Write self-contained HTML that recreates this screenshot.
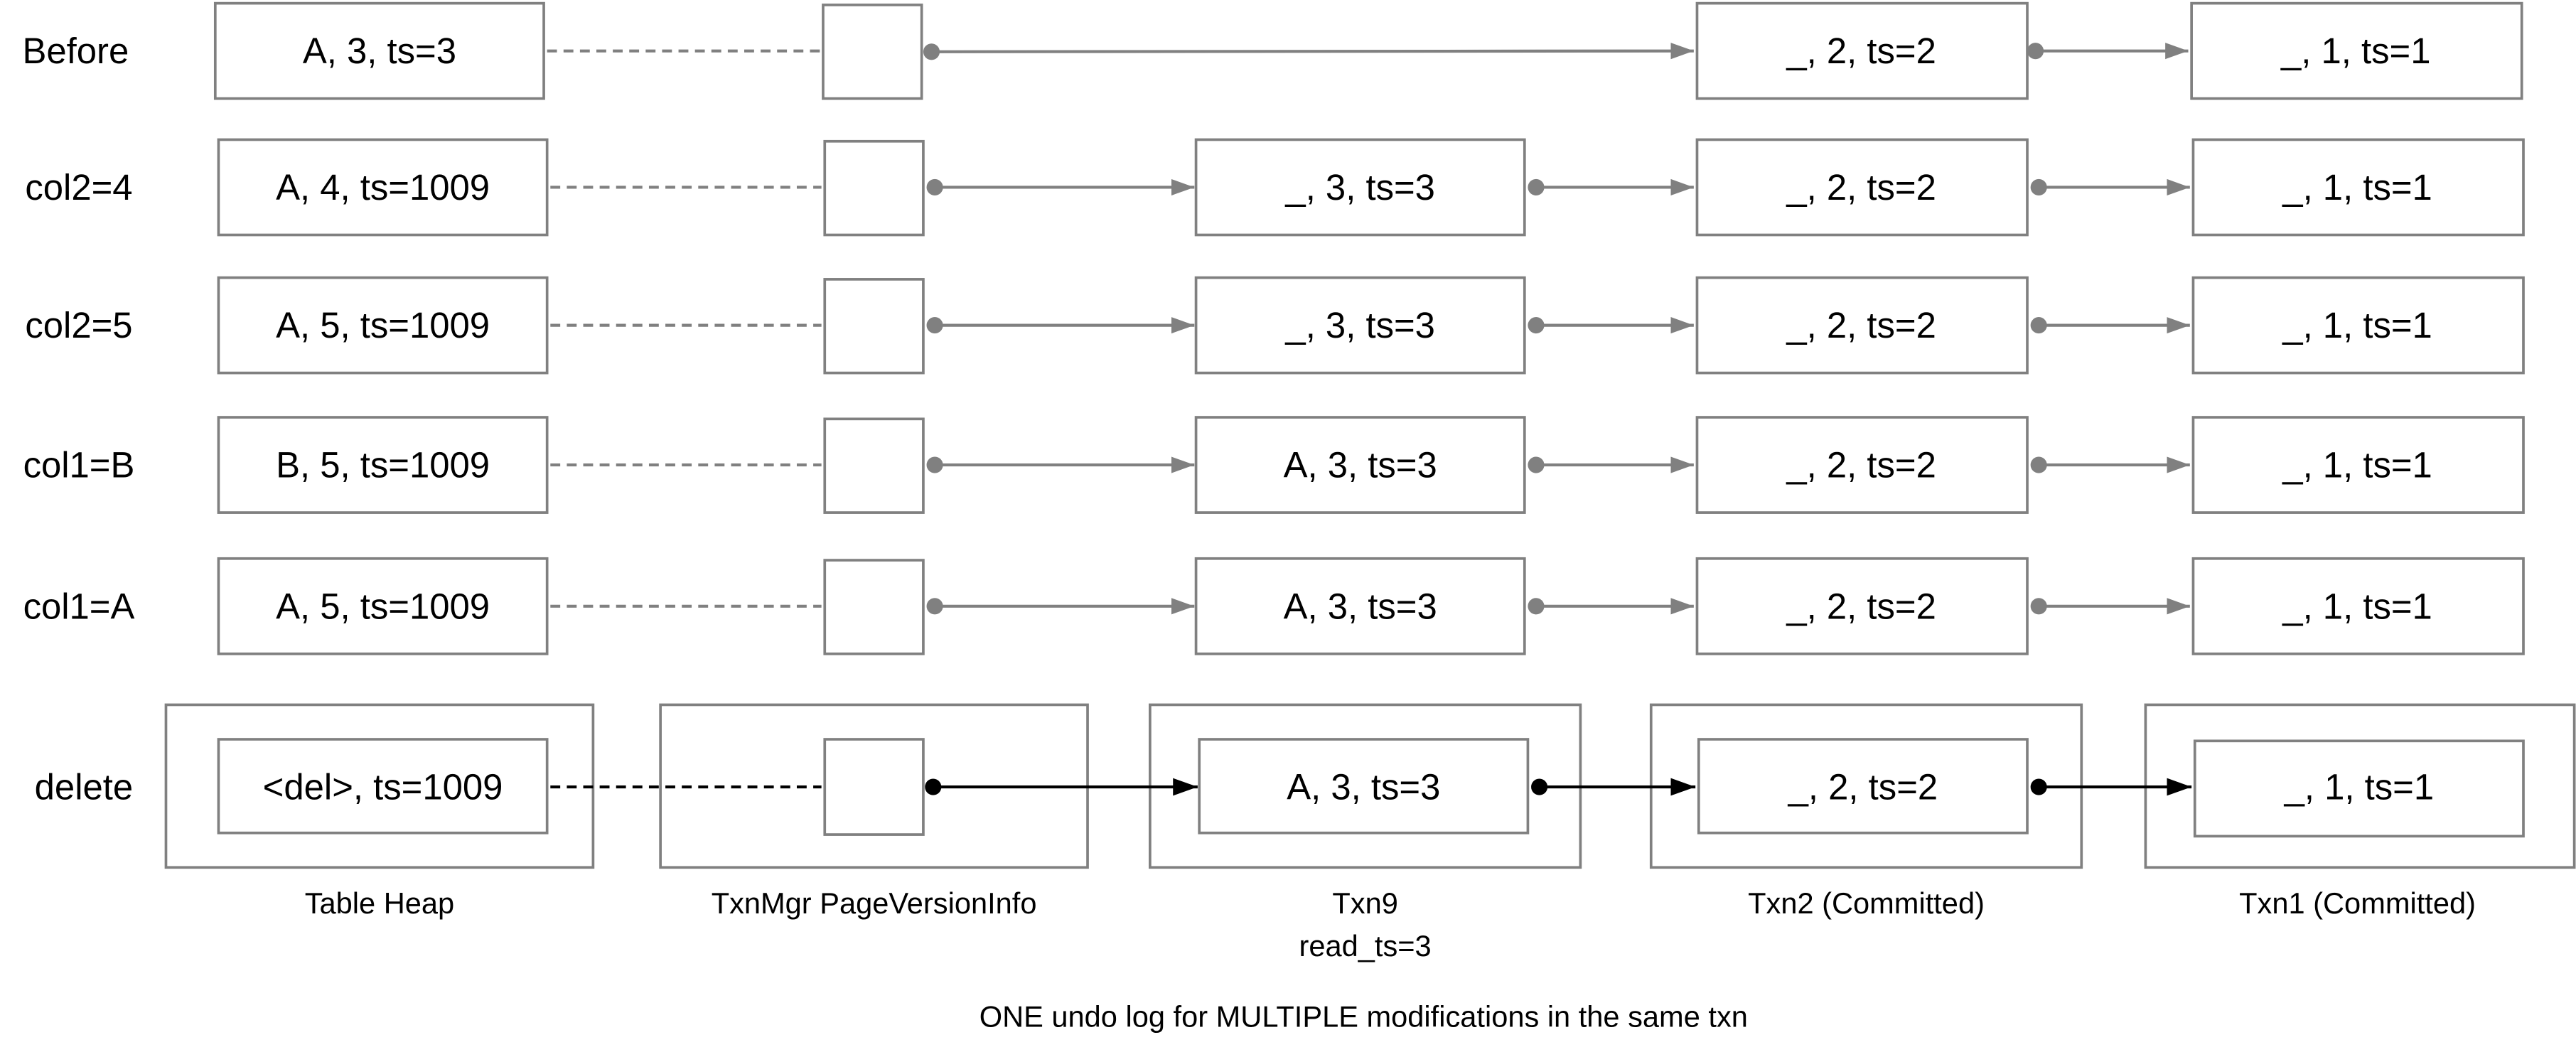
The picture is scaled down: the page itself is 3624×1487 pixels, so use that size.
<!DOCTYPE html>
<html><head><meta charset="utf-8"><style>
html,body{margin:0;padding:0;background:#fff;}
svg{display:block;}
text{font-family:"Liberation Sans",Arial,sans-serif;fill:#000;}
.b{fill:#fff;stroke:#808080;stroke-width:1.6;}
.g{stroke:#808080;stroke-width:1.8;fill:none;}
.k{stroke:#000;stroke-width:1.8;fill:none;}
.t{font-size:22px;text-anchor:middle;dominant-baseline:central;}
.l{font-size:22px;text-anchor:middle;dominant-baseline:central;}
.s{font-size:18px;text-anchor:middle;}
</style></head><body>
<svg width="3624" height="1487" viewBox="0 0 1568 643.4" xmlns="http://www.w3.org/2000/svg">
<defs>
<marker id="ag" viewBox="0 0 14 10" refX="14" refY="5" markerWidth="14" markerHeight="11" markerUnits="userSpaceOnUse" orient="auto"><path d="M0,0 L14,5 L0,10z" fill="#808080"/></marker>
<marker id="ak" viewBox="0 0 14 10" refX="14" refY="5" markerWidth="15" markerHeight="12" markerUnits="userSpaceOnUse" orient="auto"><path d="M0,0 L14,5 L0,10z" fill="#000"/></marker>
</defs>

<!-- Row: Before -->
<text class="l" x="46" y="31">Before</text>
<rect class="b" x="131" y="2" width="200" height="58"/><text class="t" x="231" y="31">A, 3, ts=3</text>
<line class="g" x1="333" y1="31" x2="500" y2="31" stroke-dasharray="6,4"/>
<rect class="b" x="501" y="3" width="60" height="57"/>
<circle cx="567" cy="31.5" r="5" fill="#808080"/>
<line class="g" x1="567" y1="31.5" x2="1031" y2="31" marker-end="url(#ag)"/>
<rect class="b" x="1033" y="2" width="201" height="58"/><text class="t" x="1133" y="31">_, 2, ts=2</text>
<circle cx="1239" cy="31" r="5" fill="#808080"/>
<line class="g" x1="1239" y1="31" x2="1332" y2="31" marker-end="url(#ag)"/>
<rect class="b" x="1334" y="2" width="201" height="58"/><text class="t" x="1434" y="31">_, 1, ts=1</text>

<!-- Row: col2=4 -->
<text class="l" x="48" y="114">col2=4</text>
<rect class="b" x="133" y="85" width="200" height="58"/><text class="t" x="233" y="114">A, 4, ts=1009</text>
<line class="g" x1="335" y1="114" x2="500" y2="114" stroke-dasharray="6,4"/>
<rect class="b" x="502" y="86" width="60" height="57"/>
<circle cx="569" cy="114" r="5" fill="#808080"/>
<line class="g" x1="569" y1="114" x2="727" y2="114" marker-end="url(#ag)"/>
<rect class="b" x="728" y="85" width="200" height="58"/><text class="t" x="828" y="114">_, 3, ts=3</text>
<circle cx="935" cy="114" r="5" fill="#808080"/>
<line class="g" x1="935" y1="114" x2="1031" y2="114" marker-end="url(#ag)"/>
<rect class="b" x="1033" y="85" width="201" height="58"/><text class="t" x="1133" y="114">_, 2, ts=2</text>
<circle cx="1241" cy="114" r="5" fill="#808080"/>
<line class="g" x1="1241" y1="114" x2="1333" y2="114" marker-end="url(#ag)"/>
<rect class="b" x="1335" y="85" width="201" height="58"/><text class="t" x="1435" y="114">_, 1, ts=1</text>

<!-- Row: col2=5 -->
<text class="l" x="48" y="198">col2=5</text>
<rect class="b" x="133" y="169" width="200" height="58"/><text class="t" x="233" y="198">A, 5, ts=1009</text>
<line class="g" x1="335" y1="198" x2="500" y2="198" stroke-dasharray="6,4"/>
<rect class="b" x="502" y="170" width="60" height="57"/>
<circle cx="569" cy="198" r="5" fill="#808080"/>
<line class="g" x1="569" y1="198" x2="727" y2="198" marker-end="url(#ag)"/>
<rect class="b" x="728" y="169" width="200" height="58"/><text class="t" x="828" y="198">_, 3, ts=3</text>
<circle cx="935" cy="198" r="5" fill="#808080"/>
<line class="g" x1="935" y1="198" x2="1031" y2="198" marker-end="url(#ag)"/>
<rect class="b" x="1033" y="169" width="201" height="58"/><text class="t" x="1133" y="198">_, 2, ts=2</text>
<circle cx="1241" cy="198" r="5" fill="#808080"/>
<line class="g" x1="1241" y1="198" x2="1333" y2="198" marker-end="url(#ag)"/>
<rect class="b" x="1335" y="169" width="201" height="58"/><text class="t" x="1435" y="198">_, 1, ts=1</text>

<!-- Row: col1=B -->
<text class="l" x="48" y="283">col1=B</text>
<rect class="b" x="133" y="254" width="200" height="58"/><text class="t" x="233" y="283">B, 5, ts=1009</text>
<line class="g" x1="335" y1="283" x2="500" y2="283" stroke-dasharray="6,4"/>
<rect class="b" x="502" y="255" width="60" height="57"/>
<circle cx="569" cy="283" r="5" fill="#808080"/>
<line class="g" x1="569" y1="283" x2="727" y2="283" marker-end="url(#ag)"/>
<rect class="b" x="728" y="254" width="200" height="58"/><text class="t" x="828" y="283">A, 3, ts=3</text>
<circle cx="935" cy="283" r="5" fill="#808080"/>
<line class="g" x1="935" y1="283" x2="1031" y2="283" marker-end="url(#ag)"/>
<rect class="b" x="1033" y="254" width="201" height="58"/><text class="t" x="1133" y="283">_, 2, ts=2</text>
<circle cx="1241" cy="283" r="5" fill="#808080"/>
<line class="g" x1="1241" y1="283" x2="1333" y2="283" marker-end="url(#ag)"/>
<rect class="b" x="1335" y="254" width="201" height="58"/><text class="t" x="1435" y="283">_, 1, ts=1</text>

<!-- Row: col1=A -->
<text class="l" x="48" y="369">col1=A</text>
<rect class="b" x="133" y="340" width="200" height="58"/><text class="t" x="233" y="369">A, 5, ts=1009</text>
<line class="g" x1="335" y1="369" x2="500" y2="369" stroke-dasharray="6,4"/>
<rect class="b" x="502" y="341" width="60" height="57"/>
<circle cx="569" cy="369" r="5" fill="#808080"/>
<line class="g" x1="569" y1="369" x2="727" y2="369" marker-end="url(#ag)"/>
<rect class="b" x="728" y="340" width="200" height="58"/><text class="t" x="828" y="369">A, 3, ts=3</text>
<circle cx="935" cy="369" r="5" fill="#808080"/>
<line class="g" x1="935" y1="369" x2="1031" y2="369" marker-end="url(#ag)"/>
<rect class="b" x="1033" y="340" width="201" height="58"/><text class="t" x="1133" y="369">_, 2, ts=2</text>
<circle cx="1241" cy="369" r="5" fill="#808080"/>
<line class="g" x1="1241" y1="369" x2="1333" y2="369" marker-end="url(#ag)"/>
<rect class="b" x="1335" y="340" width="201" height="58"/><text class="t" x="1435" y="369">_, 1, ts=1</text>

<!-- Row: delete -->
<text class="l" x="51" y="479">delete</text>
<rect class="b" x="101" y="429" width="260" height="99"/>
<rect class="b" x="402" y="429" width="260" height="99"/>
<rect class="b" x="700" y="429" width="262" height="99"/>
<rect class="b" x="1005" y="429" width="262" height="99"/>
<rect class="b" x="1306" y="429" width="261" height="99"/>
<rect class="b" x="133" y="450" width="200" height="57"/><text class="t" x="233" y="479">&lt;del&gt;, ts=1009</text>
<line class="k" x1="335" y1="479" x2="500" y2="479" stroke-dasharray="6,4"/>
<rect class="b" x="502" y="450" width="60" height="58"/>
<circle cx="568" cy="479" r="5" fill="#000"/>
<line class="k" x1="568" y1="479" x2="729" y2="479" marker-end="url(#ak)"/>
<rect class="b" x="730" y="450" width="200" height="57"/><text class="t" x="830" y="479">A, 3, ts=3</text>
<circle cx="937" cy="479" r="5" fill="#000"/>
<line class="k" x1="937" y1="479" x2="1032" y2="479" marker-end="url(#ak)"/>
<rect class="b" x="1034" y="450" width="200" height="57"/><text class="t" x="1134" y="479">_, 2, ts=2</text>
<circle cx="1241" cy="479" r="5" fill="#000"/>
<line class="k" x1="1241" y1="479" x2="1334" y2="479" marker-end="url(#ak)"/>
<rect class="b" x="1336" y="451" width="200" height="58"/><text class="t" x="1436" y="479">_, 1, ts=1</text>

<!-- bottom labels -->
<text class="s" x="231" y="556">Table Heap</text>
<text class="s" x="532" y="556">TxnMgr PageVersionInfo</text>
<text class="s" x="831" y="556">Txn9</text>
<text class="s" x="831" y="582">read_ts=3</text>
<text class="s" x="1136" y="556">Txn2 (Committed)</text>
<text class="s" x="1435" y="556">Txn1 (Committed)</text>
<text class="s" x="830" y="625">ONE undo log for MULTIPLE modifications in the same txn</text>
</svg>
</body></html>
